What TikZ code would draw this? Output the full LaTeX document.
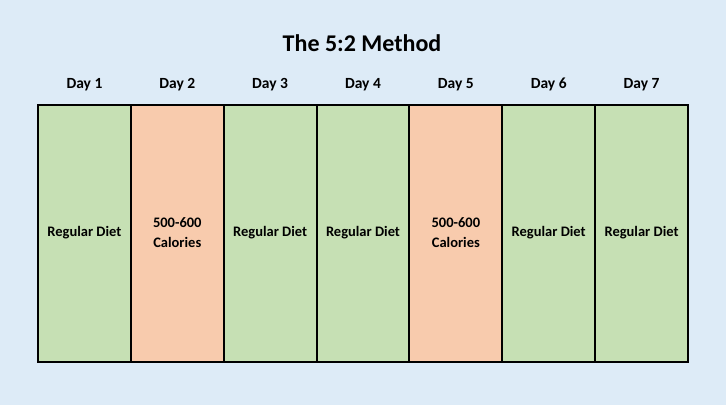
\documentclass[tikz,border=0pt]{standalone}
\usepackage{fontspec}
\setmainfont{Carlito}
\definecolor{bgblue}{HTML}{DDEBF7}
\definecolor{cellgreen}{HTML}{C6E0B4}
\definecolor{cellorange}{HTML}{F8CBAD}
\begin{document}
\begin{tikzpicture}[x=1pt,y=-1pt,
  cell/.style={draw=black,line width=2pt,minimum width=92.86pt,minimum height=257pt,inner sep=0pt,
    anchor=north west,align=center,font=\fontsize{14.5}{20}\selectfont\bfseries},
  reg/.style={cell,fill=cellgreen},
  fast/.style={cell,fill=cellorange},
  daylbl/.style={font=\fontsize{15.5}{18}\selectfont\bfseries,inner sep=0pt},
  titlelbl/.style={font=\fontsize{24}{28}\selectfont\bfseries,inner sep=0pt}]
\fill[bgblue] (0,0) rectangle (726,405);
\useasboundingbox (0,0) rectangle (726,405);
\node[titlelbl] (title) at (362,43) {The 5:2 Method};
\node[reg]  (c1) at (37,103.5) {Regular Diet};
\node[fast] (c2) at (129.86,103.5) {500-600\\Calories};
\node[reg]  (c3) at (222.71,103.5) {Regular Diet};
\node[reg]  (c4) at (315.57,103.5) {Regular Diet};
\node[fast] (c5) at (408.43,103.5) {500-600\\Calories};
\node[reg]  (c6) at (501.29,103.5) {Regular Diet};
\node[reg]  (c7) at (594.14,103.5) {Regular Diet};
\foreach \i in {1,...,7}{
  \node[daylbl] (d\i) at ([yshift=19pt]c\i.north) {Day \i};
}
\end{tikzpicture}
\end{document}
